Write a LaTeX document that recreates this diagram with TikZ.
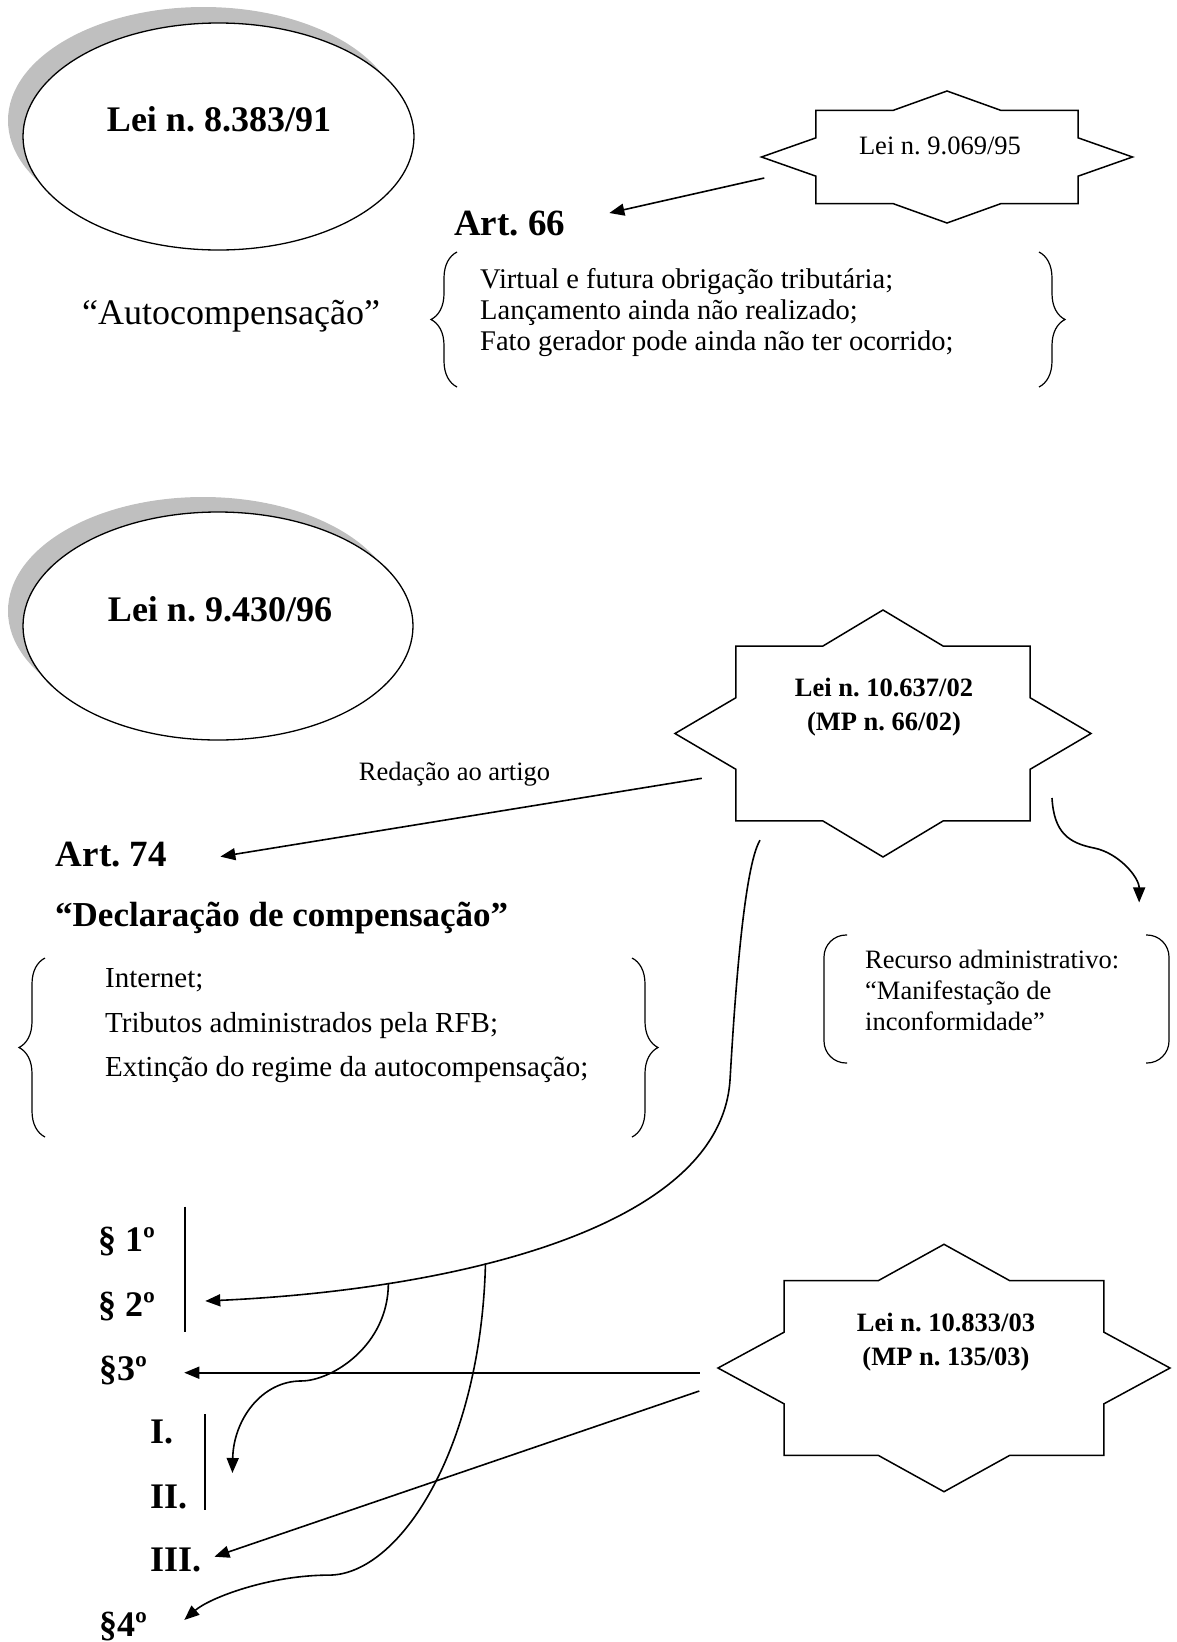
\documentclass[tikz,border=0pt]{standalone}
\usepackage{fontspec}
\setmainfont{Liberation Serif}
\usetikzlibrary{arrows.meta,calc,decorations.pathreplacing}
\frenchspacing

\definecolor{shadowgray}{gray}{0.75}

% eight-pointed star round a named box: name, half width, half height
\newcommand{\starframe}[3]{%
  \draw[line width=1.5pt, shift={(#1.center)}, x=#2pt, y=#3pt] (1,0)
    \foreach \px/\py in {.707/.29,.707/.707,.29/.707,0/1,-.29/.707,-.707/.707,-.707/.29,-1/0,
      -.707/-.29,-.707/-.707,-.29/-.707,0/-1,.29/-.707,.707/-.707,.707/-.29} {-- (\px,\py)} -- cycle;}

\begin{document}
\begin{tikzpicture}[x=1pt, y=-1pt,
  every node/.style={inner sep=0pt},
  lawtitle/.style={font=\bfseries\fontsize{36}{40}\selectfont},
  arttitle/.style={font=\bfseries\fontsize{37}{42}\selectfont},
  subtitle/.style={font=\bfseries\fontsize{35}{40}\selectfont},
  bigtext/.style={font=\fontsize{36}{42}\selectfont},
  listtext/.style={font=\fontsize{28.5}{30.9}\selectfont, align=left},
  listwide/.style={font=\fontsize{29}{44.3}\selectfont, align=left},
  smalltext/.style={font=\fontsize{26.5}{31}\selectfont},
  startext/.style={font=\bfseries\fontsize{26.5}{33.3}\selectfont, align=center},
  secmark/.style={font=\bfseries\fontsize{36}{40}\selectfont},
  starbox/.style={draw=none},
  link/.style={line width=1.6pt, -{Triangle[length=15pt, width=12pt]}},
  curly/.style={line width=1.2pt, decorate, decoration={brace, amplitude=26pt}},
  bracket/.style={line width=1.2pt, rounded corners=22pt},
  bar/.style={line width=1.3pt}]
\useasboundingbox (0,0) rectangle (1176,1642);

% first law
\fill[shadowgray] (203.5,120.5) ellipse [x radius=195.5pt, y radius=113.5pt];
\draw[line width=1.3pt, fill=white] (218.5,136.5) ellipse [x radius=195.5pt, y radius=113.5pt];
\node[lawtitle, anchor=base] (lei8383) at (219,131) {Lei n. 8.383/91};

\node[starbox, minimum width=371pt, minimum height=132pt] (lei9069) at (947,157) {};
\starframe{lei9069}{185.5}{66}
\node[smalltext, anchor=base] (lei9069txt) at (940,154) {Lei n. 9.069/95};

\node[arttitle, anchor=base west] (art66) at (454,235.5) {Art. 66};
\node[bigtext, anchor=base west] (autocomp) at (82,324) {“Autocompensação”};
\node[listtext, anchor=west] (list66) at (480,312.4)
  {Virtual e futura obrigação tributária;\\Lançamento ainda não realizado;\\Fato gerador pode ainda não ter ocorrido;};
\draw[curly] (457,387) -- (457,252);
\draw[curly] (1039,252) -- (1039,387);

\draw[link] ([shift={(3,21)}]lei9069.west) -- ([shift={(44,-22.5)}]art66.base east);

% second law
\fill[shadowgray] (203,611) ellipse [x radius=195pt, y radius=114pt];
\draw[line width=1.3pt, fill=white] (218,626) ellipse [x radius=195pt, y radius=114pt];
\node[lawtitle, anchor=base] (lei9430) at (220,621.5) {Lei n. 9.430/96};

\node[starbox, minimum width=416pt, minimum height=247pt] (lei10637) at (883,733.5) {};
\starframe{lei10637}{208}{123.5}
\node[startext] (lei10637txt) at (884,707) {Lei n. 10.637/02\\(MP n. 66/02)};

\node[smalltext, anchor=base west] (redacao) at (358.7,780) {Redação ao artigo};
\node[arttitle, anchor=base west] (art74) at (55.7,866) {Art. 74};
\node[subtitle, anchor=base west] (declaracao) at (55,926) {“Declaração de compensação”};
\node[listwide, anchor=west] (list74) at (105,1025.9)
  {Internet;\\Tributos administrados pela RFB;\\Extinção do regime da autocompensação;};
\draw[curly] (45,1137) -- (45,958);
\draw[curly] (632,958) -- (632,1137);

\node[smalltext, align=left, anchor=west] (recurso) at (865,990)
  {Recurso administrativo:\\“Manifestação de\\inconformidade”};
\draw[bracket] (847,935) -- (824,935) -- (824,1063) -- (847,1063);
\draw[bracket] (1146,935) -- (1169,935) -- (1169,1063) -- (1146,1063);

\draw[link] ([shift={(27,44.8)}]lei10637.west) -- ([shift={(53.3,-9.4)}]art74.base east);
\draw[link] ([shift={(169,64.5)}]lei10637.center) .. controls +(2,35) and +(-25,-5) .. ++(42,50)
  .. controls +(25,5) and +(0,-25) .. ([shift={(147,-47)}]recurso.north);

% paragraphs of art. 74
\node[secmark, anchor=base west] (sec1) at (98,1251.7) {§ 1º};
\node[secmark, anchor=base west] (sec2) at (98,1316.7) {§ 2º};
\node[secmark, anchor=base west] (sec3) at (99,1380) {§3º};
\node[secmark, anchor=base west] (inc1) at (150,1443.3) {I.};
\node[secmark, anchor=base west] (inc2) at (150,1508.3) {II.};
\node[secmark, anchor=base west] (inc3) at (150,1571.7) {III.};
\node[secmark, anchor=base west] (sec4) at (99,1636.7) {§4º};
\draw[bar] (185,1206.7) -- (185,1331.7);
\draw[bar] (205,1414.3) -- (205,1510);

\node[starbox, minimum width=452pt, minimum height=247.4pt] (lei10833) at (944,1368) {};
\starframe{lei10833}{226}{123.7}
\node[startext] (lei10833txt) at (946,1342) {Lei n. 10.833/03\\(MP n. 135/03)};

\draw[link] ([shift={(-123,-17)}]lei10637.south) .. controls +(-18,30) and +(3,-50) .. ++(-30,240)
  .. controls +(-10,150) and +(243,-11) .. ([shift={(50,-15.7)}]sec2.base east)
  coordinate[pos=0.61] (hstart) coordinate[pos=0.75] (gstart);
\draw[link] (gstart) .. controls +(0,63) and +(30,0) .. ++(-87,98)
  .. controls +(-40,0) and +(1,-53) .. ([shift={(45,-35.3)}]inc2.base east);
\draw[link] (hstart) .. controls +(-4.6,187) and +(70,0) .. ++(-156.6,311.7)
  .. controls +(-60,0) and +(25,-22) .. ([shift={(37,-16.7)}]sec4.base east);
\draw[link] ([shift={(-18,4.7)}]lei10833.west) -- ([shift={(37,-7.3)}]sec3.base east);
\draw[link] ([shift={(-18.5,23)}]lei10833.west) -- ([shift={(13,-15)}]inc3.base east);
\end{tikzpicture}
\end{document}
